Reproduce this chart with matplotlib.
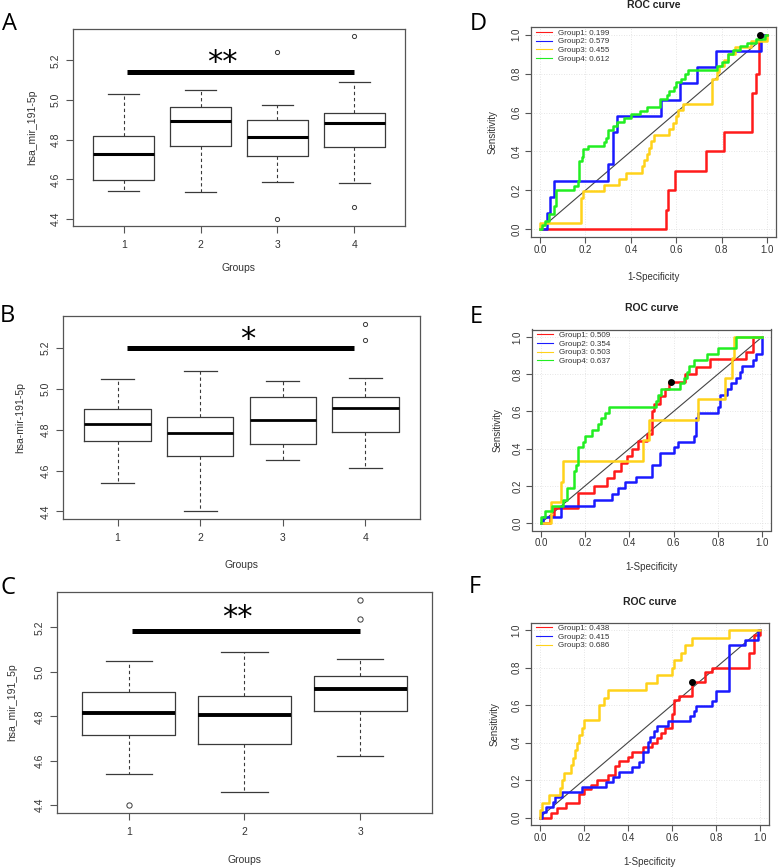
import matplotlib
matplotlib.use('Agg')
import matplotlib.pyplot as plt
from matplotlib.lines import Line2D

plt.rcParams['font.family'] = ['Liberation Sans', 'DejaVu Sans']

# ---------------- data: box plots ----------------
A_groups = ['1', '2', '3', '4']
A_whislo = [4.540, 4.536, 4.589, 4.580]
A_q1 = [4.597, 4.769, 4.718, 4.764]
A_med = [4.728, 4.893, 4.814, 4.883]
A_q3 = [4.819, 4.963, 4.899, 4.937]
A_whishi = [5.030, 5.048, 4.974, 5.089]
A_fliers = [[], [], [5.240, 4.402], [5.321, 4.459]]

B_groups = ['1', '2', '3', '4']
B_whislo = [4.539, 4.400, 4.650, 4.611]
B_q1 = [4.743, 4.673, 4.728, 4.789]
B_med = [4.828, 4.782, 4.847, 4.906]
B_q3 = [4.903, 4.864, 4.958, 4.962]
B_whishi = [5.047, 5.089, 5.037, 5.055]
B_fliers = [[], [], [], [5.319, 5.236]]

C_groups = ['1', '2', '3']
C_whislo = [4.542, 4.457, 4.623]
C_q1 = [4.717, 4.677, 4.822]
C_med = [4.814, 4.807, 4.922]
C_q3 = [4.908, 4.890, 4.980]
C_whishi = [5.047, 5.091, 5.058]
C_fliers = [[4.401], [], [5.323, 5.240]]

y_ticks_box = [4.4, 4.6, 4.8, 5.0, 5.2]

# ---------------- data: ROC curves ----------------
D_red_fpr = [0, 0.555, 0.565, 0.595, 0.73, 0.81, 0.935, 0.952, 0.965, 1.0]
D_red_tpr = [0, 0.1, 0.2, 0.3, 0.4, 0.5, 0.7, 0.8, 1.0, 1.0]
D_blue_fpr = [0, 0.03, 0.045, 0.06, 0.30, 0.32, 0.34, 0.535, 0.615, 0.69, 0.775, 0.975, 1.0]
D_blue_tpr = [0, 0.083, 0.167, 0.25, 0.333, 0.5, 0.583, 0.667, 0.75, 0.833, 0.917, 1.0, 1.0]
D_yellow_fpr = [0, 0, 0.18, 0.19, 0.28, 0.35, 0.38, 0.45, 0.46, 0.47, 0.48, 0.49, 0.50, 0.57,
                0.585, 0.60, 0.61, 0.63, 0.76, 0.78, 0.79, 0.81, 0.83, 0.86, 0.93, 1.0]
D_yellow_tpr = [0, 0.032, 0.161, 0.194, 0.226, 0.258, 0.290, 0.323, 0.355, 0.387, 0.419, 0.452,
                0.484, 0.516, 0.548, 0.581, 0.613, 0.645, 0.774, 0.806, 0.839, 0.871, 0.903,
                0.935, 0.968, 1.0]
D_green_fpr = [0, 0.01, 0.02, 0.04, 0.06, 0.07, 0.15, 0.165, 0.17, 0.185, 0.19, 0.21, 0.28, 0.29,
               0.30, 0.32, 0.34, 0.37, 0.40, 0.44, 0.47, 0.53, 0.56, 0.57, 0.59, 0.60, 0.62, 0.64,
               0.65, 0.78, 0.80, 0.83, 0.85, 0.88, 0.91, 0.95, 0.99, 1.0]
D_green_tpr = [0, 0.02, 0.04, 0.08, 0.12, 0.20, 0.22, 0.25, 0.35, 0.37, 0.41, 0.43, 0.45, 0.47,
               0.51, 0.53, 0.55, 0.57, 0.59, 0.61, 0.63, 0.67, 0.69, 0.71, 0.73, 0.755, 0.775,
               0.80, 0.82, 0.84, 0.86, 0.90, 0.92, 0.94, 0.96, 0.98, 1.0, 1.0]
D_labels = ['Group1: 0.199', 'Group2: 0.579', 'Group3: 0.455', 'Group4: 0.612']
D_dot = (0.97, 1.0)

E_red_fpr = [0, 0.04, 0.06, 0.17, 0.24, 0.30, 0.33, 0.36, 0.39, 0.41, 0.44, 0.48, 0.50, 0.51,
             0.54, 0.56, 0.58, 0.65, 0.70, 0.765, 0.925, 0.96, 1.0]
E_red_tpr = [0, 0.04, 0.08, 0.16, 0.20, 0.24, 0.28, 0.32, 0.36, 0.40, 0.44, 0.48, 0.60, 0.64,
             0.68, 0.72, 0.76, 0.80, 0.84, 0.88, 0.92, 1.0, 1.0]
E_blue_fpr = [0, 0.01, 0.09, 0.24, 0.32, 0.35, 0.38, 0.43, 0.50, 0.54, 0.60, 0.62, 0.69, 0.70,
              0.71, 0.80, 0.81, 0.84, 0.86, 0.88, 0.90, 0.91, 0.96, 0.97, 1.0]
E_blue_tpr = [0, 0.031, 0.094, 0.125, 0.156, 0.188, 0.219, 0.25, 0.3125, 0.375, 0.406, 0.4375,
              0.469, 0.5625, 0.594, 0.625, 0.6875, 0.719, 0.75, 0.781, 0.8125, 0.844, 0.875,
              0.906, 1.0]
E_yellow_fpr = [0, 0.045, 0.092, 0.10, 0.46, 0.49, 0.71, 0.83, 0.864, 0.875, 1.0]
E_yellow_tpr = [0, 0.111, 0.222, 0.333, 0.444, 0.556, 0.667, 0.778, 0.889, 1.0, 1.0]
E_green_fpr = [0, 0, 0.02, 0.05, 0.10, 0.12, 0.15, 0.16, 0.17, 0.19, 0.20, 0.23, 0.26, 0.27,
               0.29, 0.31, 0.52, 0.53, 0.545, 0.63, 0.645, 0.66, 0.67, 0.69, 0.75, 0.80, 0.88, 1.0]
E_green_tpr = [0, 0.031, 0.063, 0.094, 0.125, 0.188, 0.281, 0.313, 0.406, 0.438, 0.469, 0.5,
               0.531, 0.563, 0.594, 0.625, 0.656, 0.688, 0.719, 0.75, 0.781, 0.813, 0.844,
               0.875, 0.906, 0.938, 1.0, 1.0]
E_labels = ['Group1: 0.509', 'Group2: 0.354', 'Group3: 0.503', 'Group4: 0.637']
E_dot = (0.59, 0.76)

F_red_fpr = [0, 0.05, 0.08, 0.12, 0.18, 0.20, 0.23, 0.26, 0.31, 0.34, 0.36, 0.40, 0.42, 0.47,
             0.51, 0.53, 0.55, 0.57, 0.60, 0.61, 0.63, 0.69, 0.75, 0.78, 0.95, 0.97, 1.0]
F_red_tpr = [0, 0.025, 0.05, 0.075, 0.125, 0.15, 0.175, 0.2, 0.225, 0.275, 0.3, 0.325, 0.35,
             0.375, 0.4, 0.425, 0.45, 0.475, 0.55, 0.625, 0.65, 0.725, 0.775, 0.8, 0.875,
             0.975, 1.0]
F_blue_fpr = [0, 0.01, 0.03, 0.06, 0.07, 0.10, 0.19, 0.30, 0.33, 0.36, 0.42, 0.45, 0.47, 0.49,
              0.50, 0.52, 0.53, 0.58, 0.68, 0.70, 0.71, 0.78, 0.80, 0.86, 0.93, 0.99, 1.0]
F_blue_tpr = [0, 0.027, 0.054, 0.081, 0.108, 0.135, 0.162, 0.189, 0.216, 0.243, 0.270, 0.297,
              0.351, 0.405, 0.432, 0.459, 0.486, 0.514, 0.541, 0.568, 0.595, 0.622, 0.676,
              0.919, 0.946, 1.0, 1.0]
F_yellow_fpr = [0, 0, 0.01, 0.04, 0.09, 0.10, 0.11, 0.14, 0.15, 0.16, 0.17, 0.18, 0.19, 0.20,
                0.27, 0.29, 0.31, 0.48, 0.53, 0.60, 0.61, 0.64, 0.66, 0.69, 0.86, 1.0]
F_yellow_tpr = [0, 0.04, 0.08, 0.12, 0.16, 0.20, 0.24, 0.28, 0.32, 0.36, 0.40, 0.44, 0.48, 0.52,
                0.60, 0.64, 0.68, 0.72, 0.76, 0.80, 0.84, 0.88, 0.92, 0.96, 1.0, 1.0]
F_labels = ['Group1: 0.438', 'Group2: 0.415', 'Group3: 0.686']
F_dot = (0.69, 0.725)

roc_ticks = [0.0, 0.2, 0.4, 0.6, 0.8, 1.0]
COL_RED, COL_BLUE, COL_YEL, COL_GRN = '#ff1a1a', '#1a1aff', '#ffd21a', '#22ee22'

# ---------------- figure ----------------
W, H = 778, 868
fig = plt.figure(figsize=(W / 100, H / 100), dpi=100)
TXT = '#333333'
SPINE = '#555555'


def add_ax(x0, y0, x1, y1):
    return fig.add_axes([x0 / W, 1 - y1 / H, (x1 - x0) / W, (y1 - y0) / H])


def draw_box(ax, groups, whislo, q1, med, q3, whishi, fliers, ylabel, med_lw, flier_ms,
             bar, stars, star_xy, xlab_y, ylab_x):
    n = len(groups)
    stats = [dict(whislo=a, q1=b, med=c, q3=d, whishi=e, fliers=f, label=g)
             for a, b, c, d, e, f, g in zip(whislo, q1, med, q3, whishi, fliers, groups)]
    ax.bxp(stats, positions=list(range(1, n + 1)), widths=0.8,
           boxprops=dict(color='#3a3a3a', lw=0.9),
           medianprops=dict(color='black', lw=med_lw, solid_capstyle='butt'),
           whiskerprops=dict(color='#3a3a3a', lw=0.8, linestyle=(0, (3, 2.5))),
           capprops=dict(color='#3a3a3a', lw=0.9),
           flierprops=dict(marker='o', mfc='none', mec='#3a3a3a', ms=flier_ms, mew=0.7))
    allv = whislo + whishi + [v for fl in fliers for v in fl]
    lo, hi = min(allv), max(allv)
    pad = (hi - lo) * 0.04
    ax.set_ylim(lo - pad, hi + pad)
    xpad = n * 0.04
    ax.set_xlim(0.5 - xpad, n + 0.5 + xpad)
    ax.set_yticks(y_ticks_box)
    ax.set_yticklabels([f'{v:.1f}' for v in y_ticks_box], rotation=90, va='center')
    ax.tick_params(axis='both', colors=SPINE, labelcolor=TXT, labelsize=7.5, length=5, width=0.8)
    ax.tick_params(axis='x', pad=5)
    ax.tick_params(axis='y', pad=4)
    for s in ax.spines.values():
        s.set_color(SPINE)
        s.set_linewidth(0.9)
    ax.plot([bar[0], bar[1]], [bar[2], bar[2]], color='black', lw=3.6, solid_capstyle='butt')
    ax.text(star_xy[0], star_xy[1], stars, ha='center', va='center', fontsize=22,
            family='DejaVu Sans', color='black')
    ax.set_xlabel('Groups', fontsize=7.5, color=TXT, va='center')
    ax.xaxis.set_label_coords(0.5, xlab_y)
    ax.set_ylabel(ylabel, fontsize=7.5, color=TXT, va='center', ha='center')
    ax.yaxis.set_label_coords(ylab_x, 0.5)


def draw_roc(ax, curves, labels, dot, xlab_y, ylab_x, title_y):
    ax.set_xlim(-0.04, 1.04)
    ax.set_ylim(-0.04, 1.04)
    ax.set_xticks(roc_ticks)
    ax.set_yticks(roc_ticks)
    ax.set_xticklabels([f'{v:.1f}' for v in roc_ticks])
    ax.set_yticklabels([f'{v:.1f}' for v in roc_ticks], rotation=90, va='center')
    ax.grid(True, color='#dddddd', lw=0.6, linestyle=(0, (1, 2)))
    ax.set_axisbelow(True)
    ax.tick_params(axis='both', colors=SPINE, labelcolor=TXT, labelsize=7, length=4, width=0.8)
    ax.tick_params(axis='x', pad=1.5)
    ax.tick_params(axis='y', pad=3)
    for s in ax.spines.values():
        s.set_color(SPINE)
        s.set_linewidth(0.9)
    ax.plot([0, 1], [0, 1], color='#444444', lw=0.8, zorder=2)
    handles = []
    for (fpr, tpr, col), lab in zip(curves, labels):
        ax.plot(fpr, tpr, drawstyle='steps-post', color=col, lw=1.8, zorder=3)
        handles.append(Line2D([0], [0], color=col, lw=0.8))
    ax.plot([dot[0]], [dot[1]], 'o', color='black', ms=4, zorder=5)
    leg = ax.legend(handles, labels, loc='upper left', bbox_to_anchor=(0.022, 0.99),
                    frameon=False, fontsize=5.8, handlelength=1.9, handletextpad=0.8,
                    labelspacing=0.12, borderpad=0, borderaxespad=0)
    for t in leg.get_texts():
        t.set_color(TXT)
    ax.text(0.5, title_y, 'ROC curve', transform=ax.transAxes, fontsize=7.5,
            fontweight='bold', color='#222222', ha='center', va='center')
    ax.set_xlabel('1-Specificity', fontsize=7, color=TXT, va='center')
    ax.xaxis.set_label_coords(0.5, xlab_y)
    ax.set_ylabel('Sensitivity', fontsize=7, color=TXT, va='center', ha='center')
    ax.yaxis.set_label_coords(ylab_x, 0.5)


axA = add_ax(73, 29, 405, 226)
draw_box(axA, A_groups, A_whislo, A_q1, A_med, A_q3, A_whishi, A_fliers, 'hsa_mir_191-5p',
         2.2, 3.0, (1.04, 4.0, 5.143), '**', (2.28, 5.19), -0.213, -0.1235)

axB = add_ax(63, 316, 420, 519)
draw_box(axB, B_groups, B_whislo, B_q1, B_med, B_q3, B_whishi, B_fliers, 'hsa-mir-191-5p',
         2.0, 3.0, (1.12, 3.86, 5.2), '*', (2.57, 5.24), -0.227, -0.120)

axC = add_ax(57, 592, 432, 813)
draw_box(axC, C_groups, C_whislo, C_q1, C_med, C_q3, C_whishi, C_fliers, 'hsa_mir_191_5p',
         2.8, 3.8, (1.03, 3.0, 5.182), '**', (1.94, 5.245), -0.213, -0.12)

axD = add_ax(531, 27, 776, 237)
draw_roc(axD, [(D_red_fpr, D_red_tpr, COL_RED), (D_blue_fpr, D_blue_tpr, COL_BLUE),
               (D_yellow_fpr, D_yellow_tpr, COL_YEL), (D_green_fpr, D_green_tpr, COL_GRN)],
         D_labels, D_dot, -0.19, -0.155, 1.105)

axE = add_ax(532, 329.5, 771, 530.5)
draw_roc(axE, [(E_red_fpr, E_red_tpr, COL_RED), (E_blue_fpr, E_blue_tpr, COL_BLUE),
               (E_yellow_fpr, E_yellow_tpr, COL_YEL), (E_green_fpr, E_green_tpr, COL_GRN)],
         E_labels, E_dot, -0.18, -0.146, 1.107)

axF = add_ax(531, 622.5, 769, 825)
draw_roc(axF, [(F_red_fpr, F_red_tpr, COL_RED), (F_blue_fpr, F_blue_tpr, COL_BLUE),
               (F_yellow_fpr, F_yellow_tpr, COL_YEL)],
         F_labels, F_dot, -0.183, -0.151, 1.101)

# panel letters
for letter, x, y in [('A', 2, 30), ('B', 0, 322), ('C', 1, 594),
                     ('D', 470, 30), ('E', 470, 323), ('F', 469, 593)]:
    fig.text(x / W, 1 - y / H, letter, fontsize=17, family=['Open Sans', 'DejaVu Sans'],
             ha='left', va='baseline', color='black')

fig.savefig('out.png', dpi=100)
